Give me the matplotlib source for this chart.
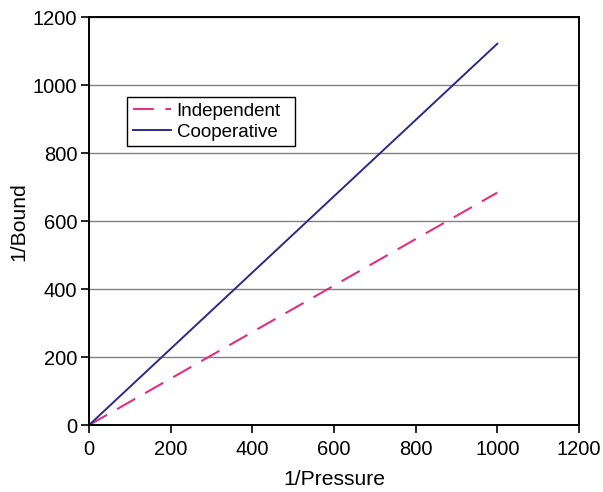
import matplotlib
matplotlib.use('Agg')
import matplotlib.pyplot as plt

# Data (straight lines through the origin)
inv_pressure = [0, 1000]
independent = [0, 684]
cooperative = [0, 1122]

plt.rcParams['font.family'] = ['Liberation Sans', 'DejaVu Sans']

fig = plt.figure(figsize=(6.03, 4.92), dpi=100)
ax = fig.add_axes([0.1476, 0.136, 0.8125, 0.829])

ax.plot(inv_pressure, independent, color='#e03080', lw=1.5, dashes=(10, 5.5), label='Independent')
ax.plot(inv_pressure, cooperative, color='#2b2a8a', lw=1.4, label='Cooperative')

ax.set_xlim(0, 1200)
ax.set_ylim(0, 1200)
ax.set_xticks(range(0, 1201, 200))
ax.set_yticks(range(0, 1201, 200))
ax.yaxis.grid(True, color='#808080', lw=1.0)
ax.set_axisbelow(True)

for s in ax.spines.values():
    s.set_linewidth(1.4)
    s.set_color('black')
ax.tick_params(direction='out', length=5.5, width=1.2, labelsize=14.5)
ax.tick_params(axis='x', pad=5)
ax.tick_params(axis='y', pad=3)

ax.set_xlabel('1/Pressure', fontsize=15.2, labelpad=8)
ax.set_ylabel('1/Bound', fontsize=15.2, labelpad=3)

# legend box spans roughly x 127..295 px, top at y 97 px
leg = ax.legend(loc='upper left', bbox_to_anchor=(0.0776, 0.804, 0.343, 0.0), mode='expand',
                fontsize=13.5, frameon=True, fancybox=False, edgecolor='black', framealpha=1,
                borderpad=0.3, handlelength=2.05, handletextpad=0.3, labelspacing=0.2,
                borderaxespad=0)
leg.get_frame().set_linewidth(1.0)

fig.savefig('out.png', dpi=100)
